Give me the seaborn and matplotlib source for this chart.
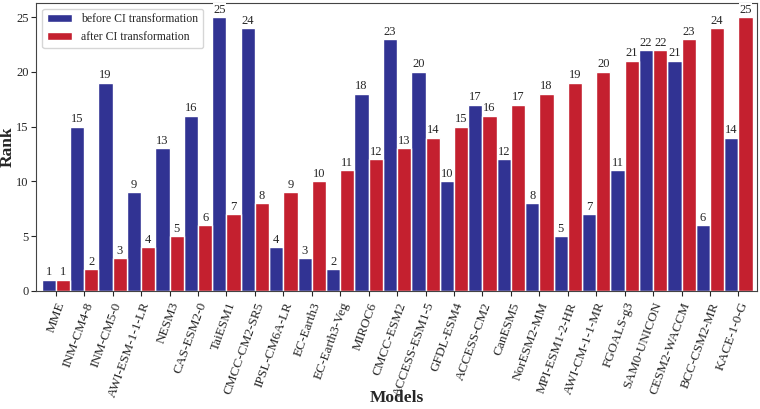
import pandas as pd
import seaborn as sns
import matplotlib.pyplot as plt

# Dados do gráfico
modelos = ["MME", "INM-CM4-8", "INM-CM5-0", "AWI-ESM-1-1-LR", "NESM3", "CAS-ESM2-0",
           "TaiESM1", "CMCC-CM2-SR5", "IPSL-CM6A-LR", "EC-Earth3", "EC-Earth3-Veg",
           "MIROC6", "CMCC-ESM2", "ACCESS-ESM1-5", "GFDL-ESM4", "ACCESS-CM2", "CanESM5",
           "NorESM2-MM", "MPI-ESM1-2-HR", "AWI-CM-1-1-MR", "FGOALS-g3", "SAM0-UNICON",
           "CESM2-WACCM", "BCC-CSM2-MR", "KACE-1-0-G"]
rank_antes = [1, 15, 19, 9, 13, 16, 25, 24, 4, 3, 2, 18, 23, 20, 10, 17, 12, 8, 5, 7, 11, 22, 21, 6, 14]
rank_depois = [1, 2, 3, 4, 5, 6, 7, 8, 9, 10, 11, 12, 13, 14, 15, 16, 17, 18, 19, 20, 21, 22, 23, 24, 25]
series = ["before CI transformation", "after CI transformation"]
cores = ["#313393", "#c4202f"]

df = pd.DataFrame({
    "Model": modelos * 2,
    "Rank": rank_antes + rank_depois,
    "Stage": [series[0]] * len(modelos) + [series[1]] * len(modelos),
})

sns.set_style("ticks")
plt.rcParams["font.family"] = ["Liberation Serif", "DejaVu Serif"]

fig, ax = plt.subplots(figsize=(7.6, 4.09), dpi=100)
sns.barplot(data=df, x="Model", y="Rank", hue="Stage", palette=cores,
            width=1.0, saturation=1, ax=ax)

for cont in ax.containers:
    ax.bar_label(cont, fontsize=9, padding=1,
                 bbox=dict(facecolor="white", edgecolor="none", pad=0.3))

ax.set_xlim(-0.68, 24.65)
ax.set_ylim(0, 26.3)
ax.set_yticks([0, 5, 10, 15, 20, 25])
ax.tick_params(axis="y", labelsize=9, pad=2)
ax.tick_params(axis="x", labelsize=9.5)
plt.setp(ax.get_xticklabels(), rotation=70, ha="right", rotation_mode="anchor")
ax.set_xlabel("Models", fontsize=12.5, fontweight="bold")
ax.set_ylabel("Rank", fontsize=12.5, fontweight="bold")
ax.xaxis.set_label_coords(0.5, -0.345)
ax.yaxis.set_label_coords(-0.029, 0.5)
ax.legend(loc="upper left", fontsize=8.5, title=None, handlelength=2.1)
for s in ax.spines.values():
    s.set_color("#444444")

plt.subplots_adjust(left=0.048, right=0.996, top=0.993, bottom=0.289)
plt.savefig("out.png")
plt.close()
